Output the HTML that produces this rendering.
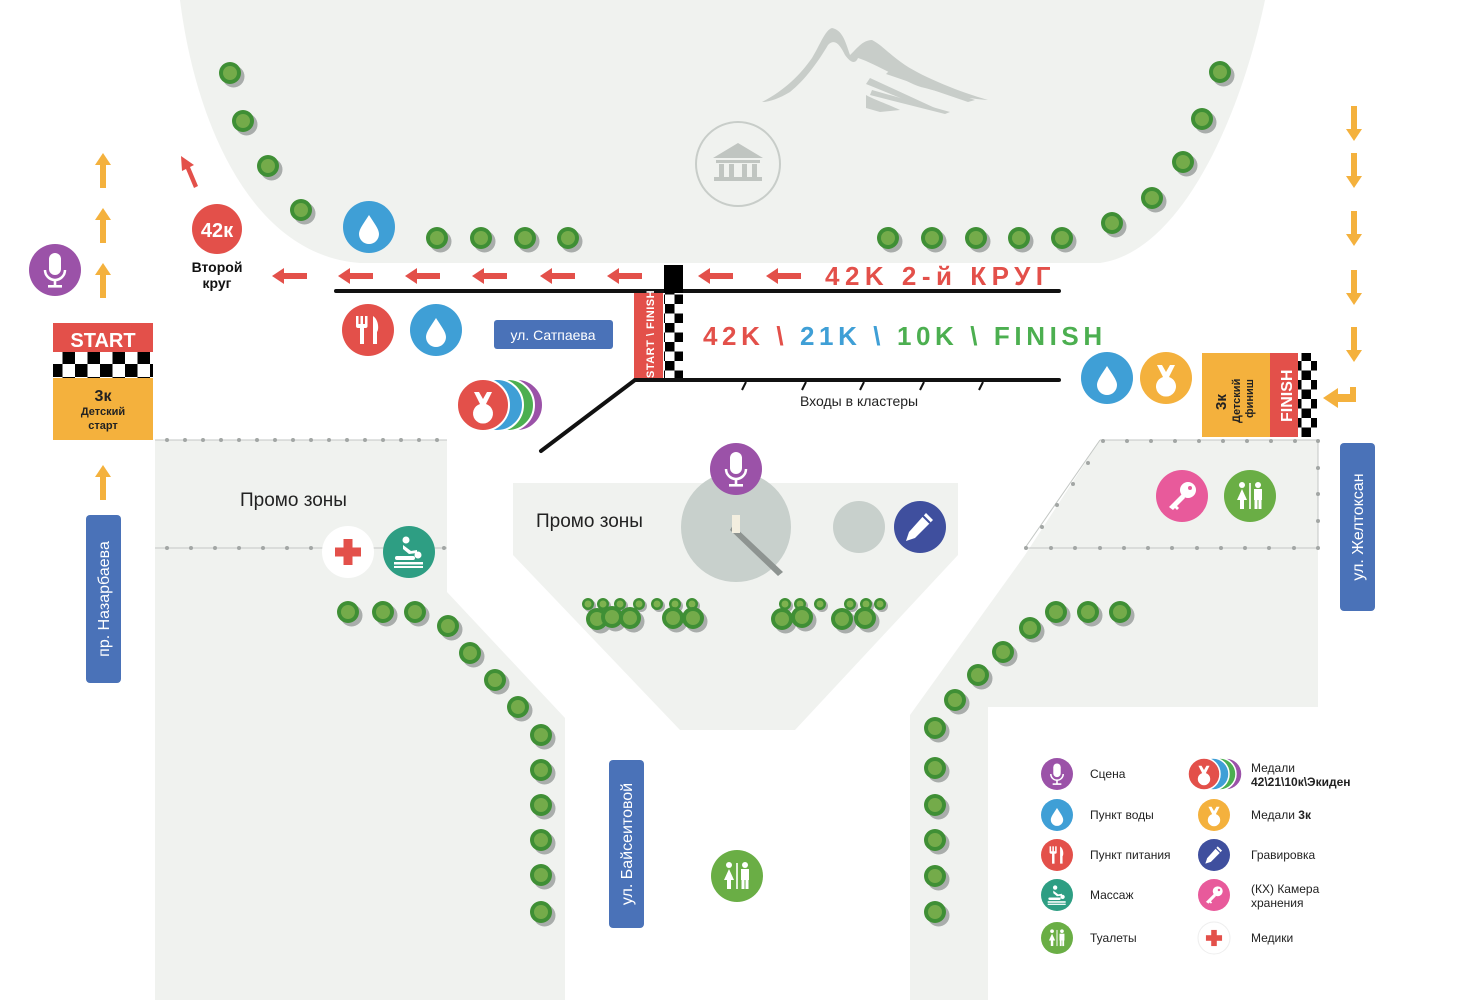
<!DOCTYPE html>
<html><head><meta charset="utf-8"><style>
html,body{margin:0;padding:0;background:#fff;}
svg{display:block;font-family:"Liberation Sans","DejaVu Sans",sans-serif;}
</style></head><body>
<svg width="1477" height="1000" viewBox="0 0 1477 1000" xmlns="http://www.w3.org/2000/svg">
<defs>
  <g id="tree"><circle cx="3.5" cy="3.5" r="11" fill="#a9adab"/><circle r="11" fill="#3f8f35"/><circle r="7" fill="#74ab4a"/></g>
  <g id="stree"><circle cx="2" cy="2" r="6" fill="#a9adab"/><circle r="6" fill="#3f8f35"/><circle r="3.5" fill="#7eb24f"/></g>
  <g id="drop"><path d="M0,-13 C5,-5 10,1 10,6 A10,10 0 0 1 -10,6 C-10,1 -5,-5 0,-13Z" fill="#fff"/></g>
  <g id="mic"><rect x="-6" y="-17" width="12" height="22" rx="6" fill="#fff"/><path d="M-10,0 A10,10 0 0 0 10,0" stroke="#fff" stroke-width="2.5" fill="none"/><rect x="-1.3" y="9" width="2.6" height="7" fill="#fff"/><rect x="-7" y="15" width="14" height="2.6" fill="#fff"/></g>
  <g id="medal"><path d="M-9,-15 L-3,-3 A10,10 0 1 0 3,-3 L9,-15 L4,-15 L0,-8 L-4,-15Z" fill="#fff"/></g>
  <g id="fork"><rect x="-12" y="-14" width="2.5" height="10" fill="#fff"/><rect x="-7.5" y="-14" width="2.5" height="10" fill="#fff"/><rect x="-3" y="-14" width="2.5" height="10" fill="#fff"/><rect x="-12" y="-6" width="11.5" height="4" rx="2" fill="#fff"/><rect x="-8" y="-4" width="4" height="18" fill="#fff"/><path d="M5,-14 C11,-10 11,0 9,2 L9,14 L5,14Z" fill="#fff"/></g>
  <g id="wc"><circle cx="-8" cy="-11" r="3" fill="#fff"/><path d="M-8,-7 L-3,4 L-6,4 L-6,13 L-10,13 L-10,4 L-13,4Z" fill="#fff"/><rect x="-0.8" y="-13" width="1.6" height="26" fill="#fff"/><circle cx="8" cy="-11" r="3" fill="#fff"/><rect x="4" y="-7" width="8" height="11" fill="#fff"/><rect x="4.5" y="3" width="3" height="10" fill="#fff"/><rect x="8.5" y="3" width="3" height="10" fill="#fff"/></g>
  <g id="key"><circle cx="6" cy="-6" r="8" fill="#fff"/><circle cx="8" cy="-8" r="2" fill="#e85a9b"/><path d="M1,-3 L-13,11 L-9,14 L-7,12 L-5,14 L-3,12 L-5,10 L3,2Z" fill="#fff"/></g>
  <g id="pencil"><path d="M6,-14 L13,-7 L-5,11 L-14,14 L-11,5Z" fill="#fff"/><path d="M3,-11 L10,-4" stroke="#3f4f9e" stroke-width="2"/></g>
  <g id="mass"><circle cx="-3" cy="-12" r="3.5" fill="#fff"/><path d="M-6,-7 L2,-1 L8,-2 L8,1 L0,2 L-6,-3Z" fill="#fff"/><circle cx="9" cy="3" r="3.5" fill="#fff"/><rect x="-14" y="4" width="20" height="4" rx="2" fill="#fff"/><rect x="-15" y="10" width="29" height="2.5" fill="#fff"/><rect x="-15" y="14" width="29" height="2" fill="#fff"/></g>
  <g id="cross"><rect x="-4.5" y="-13" width="9" height="26" fill="#e3504a"/><rect x="-13" y="-4.5" width="26" height="9" fill="#e3504a"/></g>
  <g id="larr"><path d="M-18,0 L-6,-8 L-6,-3 L17,-3 L17,3 L-6,3 L-6,8Z" fill="#e3504a"/></g>
  <g id="uarr"><path d="M0,-18 L8,-6 L3,-6 L3,17 L-3,17 L-3,-6 L-8,-6Z" fill="#f4b13d"/></g>
  <g id="darr"><path d="M0,18 L8,6 L3,6 L3,-17 L-3,-17 L-3,6 L-8,6Z" fill="#f4b13d"/></g>
  <pattern id="chk" width="19" height="19" patternUnits="userSpaceOnUse"><rect width="19" height="19" fill="#fff"/><rect width="9.5" height="9.5" fill="#000"/><rect x="9.5" y="9.5" width="9.5" height="9.5" fill="#000"/></pattern>
  <pattern id="chk2" width="25" height="26" patternUnits="userSpaceOnUse"><rect width="25" height="26" fill="#fff"/><rect width="12.5" height="13" fill="#000"/><rect x="12.5" y="13" width="12.5" height="13" fill="#000"/></pattern>
</defs>

<path d="M180,0 C195,120 250,255 360,263 L1100,263 C1180,252 1240,120 1265,0Z" fill="#f0f2ef"/>
<path d="M155,440 L447,440 L447,592 L565,718 L565,1000 L155,1000Z" fill="#f0f2ef"/>
<path d="M513,483 L958,483 L958,555 L795,730 L680,730 L513,555Z" fill="#f0f2ef"/>
<path d="M1100,440 L1318,440 L1318,707 L988,707 L988,1000 L910,1000 L910,715 L1025,555 Z" fill="#f0f2ef"/>

<!-- mountain -->
<g fill="#c8cdc9">
<path d="M762,102 C785,90 800,75 812,58 C820,45 825,30 832,28 C842,30 845,40 850,55 C856,50 862,40 872,40 C882,45 890,55 905,65 C925,78 960,92 988,100 C960,98 940,92 925,88 C915,86 905,80 895,75 C880,68 870,62 858,58 C855,65 850,62 845,55 C840,45 835,38 828,45 C818,62 805,80 790,92 C780,98 770,102 762,102Z"/>
<path d="M870,78 L935,108 L930,110 L866,84Z"/>
<path d="M872,90 L950,112 L945,114 L870,95Z"/>
<path d="M866,95 C875,100 890,105 900,110 L880,112 L866,108Z"/>
<path d="M890,70 L975,100 L968,102 L886,74Z"/>
</g>
<circle cx="738" cy="164" r="42" fill="none" stroke="#c8cdc9" stroke-width="2"/>
<path d="M713,158 L738,143 L763,158Z" fill="#c0c5c1"/>
<rect x="716" y="160" width="44" height="3" fill="#c0c5c1"/>
<rect x="719" y="164" width="5" height="13" fill="#c0c5c1"/><rect x="729" y="164" width="5" height="13" fill="#c0c5c1"/><rect x="742" y="164" width="5" height="13" fill="#c0c5c1"/><rect x="752" y="164" width="5" height="13" fill="#c0c5c1"/>
<rect x="714" y="177" width="48" height="4" fill="#c0c5c1"/>

<g>
<use href="#tree" x="230" y="73"/><use href="#tree" x="243" y="121"/><use href="#tree" x="268" y="166"/><use href="#tree" x="301" y="210"/>
<use href="#tree" x="437" y="238"/><use href="#tree" x="481" y="238"/><use href="#tree" x="525" y="238"/><use href="#tree" x="568" y="238"/>
<use href="#tree" x="888" y="238"/><use href="#tree" x="932" y="238"/><use href="#tree" x="976" y="238"/><use href="#tree" x="1019" y="238"/><use href="#tree" x="1062" y="238"/>
<use href="#tree" x="1112" y="223"/><use href="#tree" x="1152" y="198"/><use href="#tree" x="1183" y="162"/><use href="#tree" x="1202" y="119"/><use href="#tree" x="1220" y="72"/>
<use href="#tree" x="348" y="612"/><use href="#tree" x="383" y="612"/><use href="#tree" x="415" y="612"/><use href="#tree" x="448" y="626"/><use href="#tree" x="470" y="653"/><use href="#tree" x="495" y="680"/><use href="#tree" x="518" y="707"/><use href="#tree" x="541" y="735"/><use href="#tree" x="541" y="770"/><use href="#tree" x="541" y="805"/><use href="#tree" x="541" y="840"/><use href="#tree" x="541" y="875"/><use href="#tree" x="541" y="912"/>
<use href="#tree" x="1120" y="612"/><use href="#tree" x="1088" y="612"/><use href="#tree" x="1056" y="612"/><use href="#tree" x="1030" y="628"/><use href="#tree" x="1003" y="652"/><use href="#tree" x="978" y="675"/><use href="#tree" x="955" y="700"/><use href="#tree" x="935" y="728"/><use href="#tree" x="935" y="768"/><use href="#tree" x="935" y="805"/><use href="#tree" x="935" y="840"/><use href="#tree" x="935" y="876"/><use href="#tree" x="935" y="912"/>
<use href="#stree" x="588" y="604"/><use href="#stree" x="603" y="604"/><use href="#stree" x="620" y="604"/><use href="#stree" x="639" y="604"/><use href="#stree" x="657" y="604"/><use href="#stree" x="675" y="604"/><use href="#stree" x="692" y="604"/>
<use href="#tree" x="597" y="619"/><use href="#tree" x="612" y="617"/><use href="#tree" x="630" y="618"/><use href="#tree" x="673" y="618"/><use href="#tree" x="693" y="618"/>
<use href="#stree" x="785" y="604"/><use href="#stree" x="800" y="604"/><use href="#stree" x="820" y="604"/><use href="#stree" x="850" y="604"/><use href="#stree" x="866" y="604"/><use href="#stree" x="880" y="604"/>
<use href="#tree" x="782" y="619"/><use href="#tree" x="802" y="617"/><use href="#tree" x="842" y="619"/><use href="#tree" x="865" y="618"/>
</g>

<g stroke="#c3c7c4" stroke-width="1">
<line x1="155" y1="440" x2="447" y2="440"/><line x1="155" y1="548" x2="447" y2="548"/>
<line x1="1100" y1="440" x2="1318" y2="440"/><line x1="1025" y1="548" x2="1318" y2="548"/>
<line x1="1100" y1="440" x2="1025" y2="548"/><line x1="1318" y1="440" x2="1318" y2="548"/>
</g>
<g fill="#a2a6a4">
<circle cx="167" cy="440" r="2"/><circle cx="185" cy="440" r="2"/><circle cx="203" cy="440" r="2"/><circle cx="221" cy="440" r="2"/><circle cx="239" cy="440" r="2"/><circle cx="257" cy="440" r="2"/><circle cx="275" cy="440" r="2"/><circle cx="293" cy="440" r="2"/><circle cx="311" cy="440" r="2"/><circle cx="329" cy="440" r="2"/><circle cx="347" cy="440" r="2"/><circle cx="365" cy="440" r="2"/><circle cx="383" cy="440" r="2"/><circle cx="401" cy="440" r="2"/><circle cx="419" cy="440" r="2"/><circle cx="437" cy="440" r="2"/>
<circle cx="167" cy="548" r="2"/><circle cx="191" cy="548" r="2"/><circle cx="215" cy="548" r="2"/><circle cx="239" cy="548" r="2"/><circle cx="263" cy="548" r="2"/><circle cx="287" cy="548" r="2"/><circle cx="311" cy="548" r="2"/><circle cx="444" cy="548" r="2"/>
<circle cx="1103" cy="441" r="2"/><circle cx="1127" cy="441" r="2"/><circle cx="1151" cy="441" r="2"/><circle cx="1175" cy="441" r="2"/><circle cx="1199" cy="441" r="2"/><circle cx="1223" cy="441" r="2"/><circle cx="1247" cy="441" r="2"/><circle cx="1271" cy="441" r="2"/><circle cx="1295" cy="441" r="2"/><circle cx="1318" cy="441" r="2"/>
<circle cx="1088" cy="463" r="2"/><circle cx="1073" cy="484" r="2"/><circle cx="1057" cy="505" r="2"/><circle cx="1042" cy="527" r="2"/>
<circle cx="1318" cy="468" r="2"/><circle cx="1318" cy="494" r="2"/><circle cx="1318" cy="521" r="2"/>
<circle cx="1026" cy="548" r="2"/><circle cx="1051" cy="548" r="2"/><circle cx="1075" cy="548" r="2"/><circle cx="1100" cy="548" r="2"/><circle cx="1124" cy="548" r="2"/><circle cx="1148" cy="548" r="2"/><circle cx="1172" cy="548" r="2"/><circle cx="1197" cy="548" r="2"/><circle cx="1221" cy="548" r="2"/><circle cx="1245" cy="548" r="2"/><circle cx="1269" cy="548" r="2"/><circle cx="1294" cy="548" r="2"/><circle cx="1318" cy="548" r="2"/>
</g>

<g stroke="#111" stroke-width="4" stroke-linecap="round">
<line x1="336" y1="291" x2="1059" y2="291"/>
<line x1="635" y1="380" x2="1059" y2="380"/>
<line x1="635" y1="380" x2="541" y2="451"/>
</g>
<g stroke="#111" stroke-width="2">
<line x1="746" y1="382" x2="742" y2="390"/><line x1="806" y1="382" x2="802" y2="390"/><line x1="864" y1="382" x2="860" y2="390"/><line x1="924" y1="382" x2="920" y2="390"/><line x1="983" y1="382" x2="979" y2="390"/>
</g>
<text x="800" y="406" font-size="14" fill="#222">Входы в кластеры</text>

<rect x="664" y="265" width="19" height="28" fill="#000"/>
<rect x="664" y="293" width="19" height="85" fill="url(#chk)"/>
<rect x="634" y="293" width="29" height="85" fill="#e3504a"/>
<text transform="translate(654,378) rotate(-90)" font-size="11" font-weight="bold" fill="#fff" letter-spacing="0.5">START \ FINISH</text>

<use href="#larr" x="290" y="276"/><use href="#larr" x="356" y="276"/><use href="#larr" x="423" y="276"/><use href="#larr" x="490" y="276"/><use href="#larr" x="558" y="276"/><use href="#larr" x="625" y="276"/><use href="#larr" x="716" y="276"/><use href="#larr" x="784" y="276"/>
<path d="M181,156 L194,165 L190,167 L198,186 L194,188 L186,169 L182,171Z" fill="#e3504a"/>
<text x="825" y="285" font-size="26" font-weight="bold" fill="#e3504a" letter-spacing="5.5">42K 2-й КРУГ</text>
<text x="703" y="345" font-size="26" font-weight="bold" letter-spacing="4.6"><tspan fill="#e3504a">42K \ </tspan><tspan fill="#3f9fd6">21K \ </tspan><tspan fill="#4caf50">10K \ FINISH</tspan></text>

<use href="#uarr" x="103" y="171"/><use href="#uarr" x="103" y="226"/><use href="#uarr" x="103" y="281"/><use href="#uarr" x="103" y="483"/>
<use href="#darr" x="1354" y="123"/><use href="#darr" x="1354" y="170"/><use href="#darr" x="1354" y="228"/><use href="#darr" x="1354" y="287"/><use href="#darr" x="1354" y="344"/>
<path d="M1356,387 L1356,402 L1338,402 L1338,408 L1323,398 L1338,388 L1338,394 L1350,394 L1350,387Z" fill="#f4b13d"/>

<rect x="53" y="323" width="100" height="29" fill="#e3504a"/>
<text x="103" y="347" text-anchor="middle" font-size="20" font-weight="bold" fill="#fff">START</text>
<rect x="53" y="352" width="100" height="26" fill="url(#chk2)"/>
<rect x="53" y="378" width="100" height="62" fill="#f4b13d"/>
<text x="103" y="401" text-anchor="middle" font-size="16" font-weight="bold" fill="#222">3к</text>
<text x="103" y="415" text-anchor="middle" font-size="11" font-weight="bold" fill="#222">Детский</text>
<text x="103" y="429" text-anchor="middle" font-size="11" font-weight="bold" fill="#222">старт</text>

<rect x="1202" y="353" width="68" height="84" fill="#f4b13d"/>
<rect x="1270" y="353" width="28" height="84" fill="#e3504a"/>
<rect x="1298" y="353" width="19" height="84" fill="url(#chk)"/>
<text transform="translate(1292,422) rotate(-90)" font-size="16" font-weight="bold" fill="#fff">FINISH</text>
<text transform="translate(1226,410) rotate(-90)" font-size="15" font-weight="bold" fill="#222">3к</text>
<text transform="translate(1240,423) rotate(-90)" font-size="11" font-weight="bold" fill="#222">Детский</text>
<text transform="translate(1253,418) rotate(-90)" font-size="11" font-weight="bold" fill="#222">финиш</text>

<rect x="494" y="320" width="119" height="29" rx="3" fill="#4a72b8"/>
<text x="553" y="340" text-anchor="middle" font-size="14" fill="#fff">ул. Сатпаева</text>
<rect x="86" y="515" width="35" height="168" rx="4" fill="#4a72b8"/>
<text transform="translate(109,599) rotate(-90)" text-anchor="middle" font-size="16" fill="#fff">пр. Назарбаева</text>
<rect x="609" y="760" width="35" height="168" rx="4" fill="#4a72b8"/>
<text transform="translate(632,844) rotate(-90)" text-anchor="middle" font-size="16" fill="#fff">ул. Байсеитовой</text>
<rect x="1340" y="443" width="35" height="168" rx="4" fill="#4a72b8"/>
<text transform="translate(1363,527) rotate(-90)" text-anchor="middle" font-size="16" fill="#fff">ул. Желтоксан</text>

<text x="240" y="506" font-size="19" fill="#222">Промо зоны</text>
<text x="536" y="527" font-size="19" fill="#222">Промо зоны</text>
<circle cx="736" cy="527" r="55" fill="#c8d0cc"/>
<path d="M733,525 L783,572 L778,576 L730,530Z" fill="#8e9491"/>
<rect x="732" y="515" width="8" height="18" fill="#f3eedf"/>
<circle cx="859" cy="527" r="26" fill="#c8d0cc"/>

<circle cx="217" cy="229" r="25" fill="#e3504a"/>
<text x="217" y="237" text-anchor="middle" font-size="20" font-weight="bold" fill="#fff">42к</text>
<text x="217" y="272" text-anchor="middle" font-size="14" font-weight="bold" fill="#111">Второй</text>
<text x="217" y="288" text-anchor="middle" font-size="14" font-weight="bold" fill="#111">круг</text>

<circle cx="55" cy="270" r="26" fill="#9b52a8"/><use href="#mic" x="55" y="270"/>
<circle cx="369" cy="227" r="26" fill="#3f9fd6"/><use href="#drop" x="369" y="228"/>
<circle cx="368" cy="330" r="26" fill="#e3504a"/><use href="#fork" x="368" y="330"/>
<circle cx="436" cy="330" r="26" fill="#3f9fd6"/><use href="#drop" x="436" y="331"/>
<circle cx="517" cy="405" r="26" fill="#9b52a8" stroke="#fff" stroke-width="2"/>
<circle cx="508" cy="405" r="26" fill="#4caf50" stroke="#fff" stroke-width="2"/>
<circle cx="497" cy="405" r="26" fill="#3f9fd6" stroke="#fff" stroke-width="2"/>
<circle cx="483" cy="405" r="26" fill="#e3504a" stroke="#fff" stroke-width="2"/><use href="#medal" x="483" y="407"/>

<circle cx="1107" cy="378" r="26" fill="#3f9fd6"/><use href="#drop" x="1107" y="379"/>
<circle cx="1166" cy="378" r="26" fill="#f4b13d"/><use href="#medal" x="1166" y="380"/>
<circle cx="1182" cy="496" r="26" fill="#e85a9b"/><use href="#key" x="1182" y="496"/>
<circle cx="1250" cy="496" r="26" fill="#6aae45"/><use href="#wc" x="1250" y="496"/>
<circle cx="348" cy="552" r="26" fill="#fff"/><use href="#cross" x="348" y="552"/>
<circle cx="409" cy="552" r="26" fill="#2e9e83"/><use href="#mass" x="409" y="552"/>
<circle cx="736" cy="469" r="26" fill="#9b52a8"/><use href="#mic" x="736" y="469"/>
<circle cx="920" cy="527" r="26" fill="#3f4f9e"/><use href="#pencil" x="920" y="527"/>
<circle cx="737" cy="876" r="26" fill="#6aae45"/><use href="#wc" x="737" y="876"/>

<g font-size="12" fill="#222">
<circle cx="1057" cy="774" r="16" fill="#9b52a8"/><use href="#mic" transform="translate(1057,774) scale(0.62)"/>
<text x="1090" y="778">Сцена</text>
<circle cx="1057" cy="815" r="16" fill="#3f9fd6"/><use href="#drop" transform="translate(1057,816) scale(0.62)"/>
<text x="1090" y="819">Пункт воды</text>
<circle cx="1057" cy="855" r="16" fill="#e3504a"/><use href="#fork" transform="translate(1057,855) scale(0.62)"/>
<text x="1090" y="859">Пункт питания</text>
<circle cx="1057" cy="895" r="16" fill="#2e9e83"/><use href="#mass" transform="translate(1057,895) scale(0.62)"/>
<text x="1090" y="899">Массаж</text>
<circle cx="1057" cy="938" r="16" fill="#6aae45"/><use href="#wc" transform="translate(1057,938) scale(0.62)"/>
<text x="1090" y="942">Туалеты</text>

<circle cx="1226" cy="774" r="16" fill="#9b52a8" stroke="#fff" stroke-width="1.5"/>
<circle cx="1220" cy="774" r="16" fill="#4caf50" stroke="#fff" stroke-width="1.5"/>
<circle cx="1213" cy="774" r="16" fill="#3f9fd6" stroke="#fff" stroke-width="1.5"/>
<circle cx="1204" cy="774" r="16" fill="#e3504a" stroke="#fff" stroke-width="1.5"/><use href="#medal" transform="translate(1204,775) scale(0.62)"/>
<text x="1251" y="772">Медали</text>
<text x="1251" y="786" font-weight="bold">42\21\10к\Экиден</text>
<circle cx="1214" cy="815" r="16" fill="#f4b13d"/><use href="#medal" transform="translate(1214,816) scale(0.62)"/>
<text x="1251" y="819">Медали <tspan font-weight="bold">3к</tspan></text>
<circle cx="1214" cy="855" r="16" fill="#3f4f9e"/><use href="#pencil" transform="translate(1214,855) scale(0.62)"/>
<text x="1251" y="859">Гравировка</text>
<circle cx="1214" cy="895" r="16" fill="#e85a9b"/><use href="#key" transform="translate(1214,895) scale(0.62)"/>
<text x="1251" y="893">(КХ) Камера</text>
<text x="1251" y="907">хранения</text>
<circle cx="1214" cy="938" r="16" fill="#fff" stroke="#eee"/><use href="#cross" transform="translate(1214,938) scale(0.62)"/>
<text x="1251" y="942">Медики</text>
</g>
</svg>
</body></html>
